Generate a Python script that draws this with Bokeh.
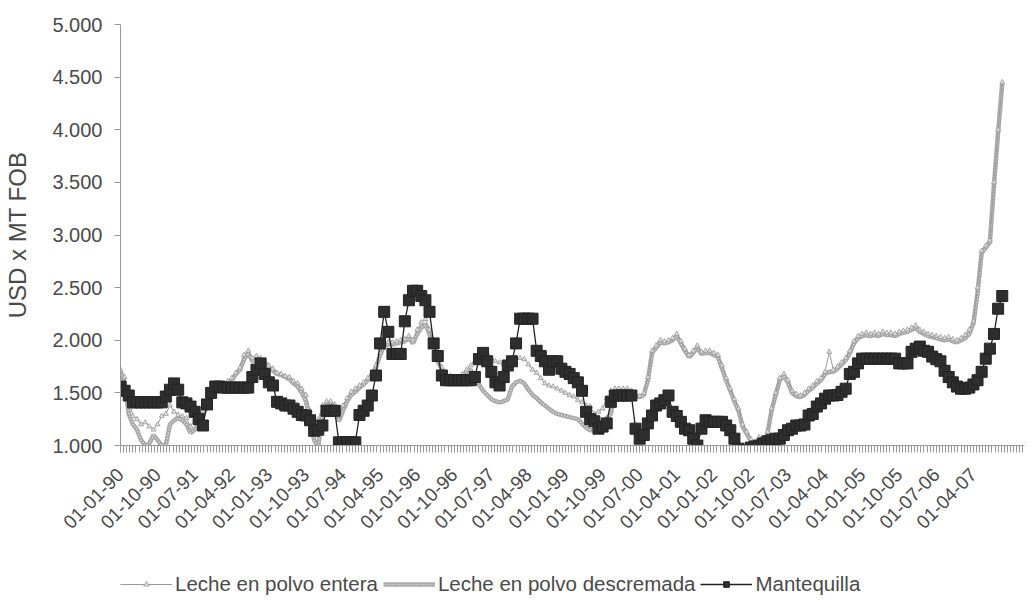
from bokeh.plotting import figure
from bokeh.models import FixedTicker, Legend, LegendItem, Range1d
from bokeh.layouts import column
from bokeh.embed import file_html
from bokeh.resources import INLINE

# month index since Jan 1990
month = list(range(215))

tick_pos = list(range(0, 208, 9))
tick_labels = ["01-01-90", "01-10-90", "01-07-91", "01-04-92", "01-01-93", "01-10-93",
               "01-07-94", "01-04-95", "01-01-96", "01-10-96", "01-07-97", "01-04-98",
               "01-01-99", "01-10-99", "01-07-00", "01-04-01", "01-01-02", "01-10-02",
               "01-07-03", "01-04-04", "01-01-05", "01-10-05", "01-07-06", "01-04-07"]

y_ticks = [1000, 1500, 2000, 2500, 3000, 3500, 4000, 4500, 5000]
y_labels = ["1.000", "1.500", "2.000", "2.500", "3.000", "3.500", "4.000", "4.500", "5.000"]

series_names = ["Leche en polvo entera", "Leche en polvo descremada", "Mantequilla"]

entera = [
    1720, 1650, 1450, 1280, 1250, 1200, 1220, 1180, 1150, 1200,
    1280, 1300, 1380, 1320, 1290, 1280, 1260, 1180, 1250, 1300,
    1330, 1420, 1480, 1520, 1540, 1570, 1610, 1640, 1690, 1740,
    1860, 1900, 1830, 1850, 1830, 1800, 1760, 1730, 1690, 1680,
    1660, 1650, 1610, 1590, 1540, 1480, 1330, 1200, 1250, 1380,
    1420, 1420, 1390, 1280, 1380, 1450, 1510, 1540, 1570, 1600,
    1640, 1690, 1760, 1880, 1970, 1980, 1980, 1990, 2000, 2010,
    2040, 2000, 2100, 2170, 2200, 2100, 1960, 1830, 1740, 1680,
    1660, 1650, 1640, 1680, 1720, 1760, 1800, 1830, 1870, 1880,
    1830, 1800, 1790, 1770, 1780, 1800, 1830, 1830, 1820, 1770,
    1720, 1690, 1640, 1590, 1570, 1560, 1540, 1520, 1500, 1480,
    1465, 1430, 1410, 1380, 1370, 1300, 1320, 1350, 1450, 1520,
    1540, 1540, 1540, 1540, 1520, 1480, 1470, 1500, 1650, 1900,
    1950, 2000, 1990, 2000, 2020, 2060, 1990, 1920, 1860, 1900,
    1950, 1890, 1900, 1900, 1880, 1860, 1760, 1640, 1540, 1440,
    1350, 1200, 1130, 1060, 1000, 1080, 1010, 1130, 1350, 1500,
    1640, 1680, 1620, 1520, 1490, 1475, 1500, 1540, 1570, 1610,
    1640, 1700, 1890, 1720, 1750, 1790, 1830, 1900, 1990, 2040,
    2060, 2070, 2060, 2070, 2060, 2080, 2070, 2070, 2060, 2080,
    2090, 2100, 2120, 2140, 2100, 2080, 2060, 2050, 2040, 2030,
    2020, 2030, 2010, 2000, 2020, 2050, 2100, 2180, 2500, 2850,
    2900, 2950, 3500, 4000, 4450,
]

descremada = [
    1700, 1600, 1300, 1200, 1150, 1050, 1000, 1020, 1100, 1050,
    1000, 1000, 1200, 1240, 1260, 1240, 1200, 1120, 1150, 1200,
    1280, 1380, 1460, 1500, 1530, 1560, 1590, 1620, 1680, 1720,
    1820, 1880, 1800, 1820, 1800, 1780, 1740, 1710, 1680, 1670,
    1650, 1630, 1590, 1560, 1500, 1420, 1250, 1050, 990, 1300,
    1380, 1400, 1350, 1230, 1330, 1420, 1480, 1510, 1550, 1580,
    1620, 1670, 1740, 1860, 1950, 1960, 1960, 1970, 1980, 1990,
    2020, 1970, 2060, 2120, 2150, 2060, 1930, 1800, 1720, 1660,
    1640, 1630, 1620, 1650, 1700, 1720, 1640, 1580, 1520, 1480,
    1440, 1420, 1410, 1420, 1440, 1560, 1600, 1615, 1590, 1530,
    1480, 1450, 1410, 1380, 1350, 1320, 1300, 1290, 1280, 1270,
    1260, 1250, 1210, 1170, 1145, 1145, 1150, 1190, 1260, 1300,
    1500, 1520, 1520, 1530, 1500, 1470, 1460, 1480, 1620, 1880,
    1930, 1980, 1970, 1980, 2000, 2040, 1970, 1900, 1840, 1880,
    1930, 1870, 1880, 1880, 1860, 1840, 1730, 1620, 1520, 1420,
    1330, 1180, 1110, 1040, 990, 1060, 1000, 1110, 1330, 1480,
    1620, 1660, 1600, 1500, 1470, 1460, 1480, 1520, 1550, 1590,
    1620, 1680, 1700, 1700, 1730, 1770, 1810, 1880, 1970, 2020,
    2040, 2050, 2040, 2050, 2040, 2060, 2050, 2050, 2040, 2060,
    2070, 2080, 2100, 2120, 2080, 2060, 2040, 2030, 2020, 2010,
    2000, 2010, 1990, 1980, 2000, 2020, 2060, 2160, 2450, 2830,
    2880, 2930, 3480, 3980, 4440,
]

mantequilla = [
    1560, 1520, 1475, 1410, 1410, 1410, 1410, 1410, 1410, 1410,
    1410, 1465, 1530, 1590, 1530, 1410, 1400, 1370, 1320, 1250,
    1190, 1390, 1500, 1560, 1560, 1550, 1550, 1550, 1550, 1550,
    1550, 1550, 1650, 1720, 1780, 1680, 1600, 1570, 1415, 1400,
    1380, 1380, 1350, 1320, 1290, 1285, 1240, 1140, 1150, 1190,
    1330, 1330, 1330, 1030, 1030, 1030, 1030, 1030, 1290, 1330,
    1380, 1475, 1665, 1970, 2270, 2080, 1870, 1870, 1870, 2180,
    2380, 2470, 2470, 2420, 2380, 2270, 1970, 1850, 1665, 1620,
    1620, 1620, 1620, 1620, 1620, 1620, 1650, 1820, 1880, 1800,
    1700, 1600, 1570, 1650, 1760, 1800, 1970, 2205, 2205, 2205,
    2205, 1900, 1850, 1800, 1720, 1800, 1800, 1730, 1700, 1680,
    1640, 1600, 1520, 1320, 1250, 1230, 1160, 1180, 1210, 1415,
    1475, 1475, 1475, 1475, 1475, 1160, 1065, 1100, 1210, 1285,
    1380, 1400, 1430, 1475, 1320, 1280, 1225, 1160, 1145, 1065,
    1000, 1160, 1240, 1225, 1225, 1225, 1225, 1190, 1145, 1065,
    970, 950, 950, 980, 990, 1000, 1020, 1040, 1050, 1065,
    1065, 1100, 1145, 1160, 1190, 1190, 1200, 1285, 1300, 1370,
    1400, 1445, 1475, 1475, 1480, 1510, 1540, 1680, 1700, 1780,
    1825, 1825, 1825, 1825, 1825, 1825, 1825, 1825, 1825, 1780,
    1780, 1780, 1890, 1920, 1940, 1900, 1890, 1845, 1820, 1800,
    1710, 1650, 1600, 1560, 1540, 1540, 1550, 1580, 1620, 1700,
    1825, 1920, 2060, 2300, 2420,
]

TXT = "#4a4a4a"
AX = "#9a9a9a"
FONT = "Liberation Sans"

# styles per series
sty_d_outer = dict(line_color="#a8a8a8", line_width=4.5)
sty_d_inner = dict(line_color="#e6e6e6", line_width=1.5, line_dash="1 2")
sty_e_line = dict(line_color="#9a9a9a", line_width=1)
sty_e_pts = dict(marker="triangle", size=5, line_color="#9a9a9a", fill_color="#dddddd", line_width=0.8)
sty_m_line = dict(line_color="#222222", line_width=1.3)
sty_m_pts = dict(marker="square", size=11, line_color="#222222", fill_color="#2e2e2e")

p = figure(width=1026, height=537, x_range=(0, 219.4), y_range=(1000, 5000),
           output_backend="svg", toolbar_location=None,
           min_border_left=120, min_border_top=24, min_border_right=2,
           min_border_bottom=91)
p.outline_line_color = None
p.grid.grid_line_color = None

p.line(month, descremada, **sty_d_outer)
p.line(month, descremada, **sty_d_inner)
p.line(month, entera, **sty_e_line)
p.scatter(month, entera, **sty_e_pts)
p.line(month, mantequilla, **sty_m_line)
p.scatter(month, mantequilla, **sty_m_pts)

# x axis
p.xaxis.ticker = FixedTicker(ticks=tick_pos,
                             minor_ticks=[i * 0.75 for i in range(293)])
p.xaxis.major_label_overrides = {t: l for t, l in zip(tick_pos, tick_labels)}
p.xaxis.major_label_orientation = 0.785398
p.xaxis.major_label_text_font = FONT
p.xaxis.major_label_text_font_size = "19px"
p.xaxis.major_label_text_color = TXT
p.xaxis.axis_line_color = AX
p.xaxis.major_tick_line_color = AX
p.xaxis.minor_tick_line_color = AX
p.xaxis.major_tick_out = 7
p.xaxis.major_tick_in = 0
p.xaxis.minor_tick_out = 7
p.xaxis.minor_tick_in = 0
p.xaxis.major_label_standoff = 19

# y axis
p.yaxis.ticker = FixedTicker(ticks=y_ticks, minor_ticks=[])
p.yaxis.major_label_overrides = {t: l for t, l in zip(y_ticks, y_labels)}
p.yaxis.major_label_text_font = FONT
p.yaxis.major_label_text_font_size = "20px"
p.yaxis.major_label_text_color = TXT
p.yaxis.axis_line_color = AX
p.yaxis.major_tick_line_color = AX
p.yaxis.major_tick_out = 6
p.yaxis.major_tick_in = 0
p.yaxis.major_label_standoff = 12
p.yaxis.axis_label = "USD x MT FOB"
p.yaxis.axis_label_text_font = FONT
p.yaxis.axis_label_text_font_size = "24px"
p.yaxis.axis_label_text_font_style = "normal"
p.yaxis.axis_label_text_color = TXT
p.yaxis.axis_label_standoff = 18

# legend strip below the chart (its renderers hold the series but lie outside its view)
lg = figure(width=1026, height=59, output_backend="svg", toolbar_location=None,
            x_axis_type=None, y_axis_type=None, min_border=0,
            x_range=Range1d(-10, -5), y_range=Range1d(-10, -5))
lg.outline_line_color = None
lg.grid.grid_line_color = None
k_e1 = lg.line(month, entera, **sty_e_line)
k_e2 = lg.scatter(month, entera, **sty_e_pts)
k_d1 = lg.line(month, descremada, **sty_d_outer)
k_d2 = lg.line(month, descremada, **sty_d_inner)
k_m1 = lg.line(month, mantequilla, **sty_m_line)
k_m2 = lg.scatter(month, mantequilla, **sty_m_pts)

legend = Legend(items=[
    LegendItem(label=series_names[0], renderers=[k_e1, k_e2]),
    LegendItem(label=series_names[1], renderers=[k_d1, k_d2]),
    LegendItem(label=series_names[2], renderers=[k_m1, k_m2]),
], orientation="horizontal", location=(0, 0))
legend.border_line_color = None
legend.background_fill_alpha = 0
legend.label_text_font = FONT
legend.label_text_font_size = "20.5px"
legend.label_text_color = TXT
legend.glyph_width = 52
legend.glyph_height = 14
legend.label_standoff = 3
legend.spacing = 5
legend.padding = 0
legend.margin = 0
lg.add_layout(legend, "center")

layout = column(p, lg, spacing=0)
open("out.html", "w").write(file_html(layout, INLINE))
